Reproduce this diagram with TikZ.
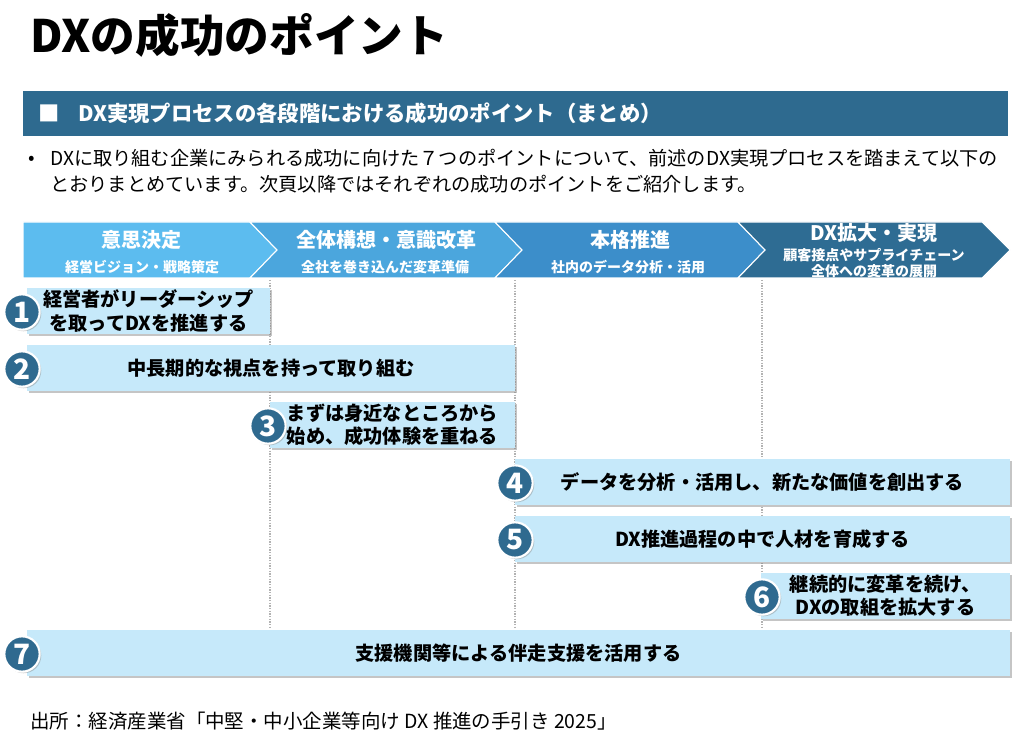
\documentclass[tikz,border=0pt]{standalone}
\usepackage{fontspec}
\setmainfont{Noto Sans CJK JP}
\usetikzlibrary{calc}
\usetikzlibrary{shadows}

\definecolor{hdrblue}{HTML}{2E6A8F}
\definecolor{stepA}{HTML}{5CBCEF}
\definecolor{stepB}{HTML}{4BA6DD}
\definecolor{stepC}{HTML}{3C8ECA}
\definecolor{stepD}{HTML}{2E6C93}
\definecolor{boxfill}{HTML}{C6E9FA}
\definecolor{numblue}{HTML}{2F6A8F}

\begin{document}
\begin{tikzpicture}[x=0.75pt,y=-0.75pt,
  chev/.style={draw=white,line width=0.8pt},
  chevtitle/.style={text=white,inner sep=0pt,font=\bfseries\fontsize{15}{18}\selectfont},
  chevsub/.style={text=white,inner sep=0pt,align=center,font=\bfseries\fontsize{10.5}{12}\selectfont},
  pointbox/.style={fill=boxfill,minimum height=34.5pt,inner sep=0pt,align=center,
    font=\bfseries\fontsize{14.4}{17.5}\selectfont,
    drop shadow={shadow xshift=1.6pt,shadow yshift=-1.6pt,fill=black!45,opacity=0.5}},
  numcirc/.style={circle,fill=numblue,draw=white,line width=1.6pt,minimum size=26.5pt,
    inner sep=0pt,text=white,font=\bfseries\fontsize{21}{21}\selectfont,
    drop shadow={shadow xshift=1.2pt,shadow yshift=-1.2pt,fill=black!45,opacity=0.45}},
  guide/.style={black!30,densely dotted,line width=1pt}]

\useasboundingbox (0,0) rectangle (1024,745);

% title and heading bar
\node[anchor=west,inner sep=0pt,font=\bfseries\fontsize{33.5}{36}\selectfont] (title) at (30,35) {DXの成功のポイント};
\fill[hdrblue] (23,91) rectangle (1008,136);
\node[anchor=west,inner sep=0pt,text=white,font=\bfseries\fontsize{16}{18}\selectfont] (hdrtext) at (38,113) {■\hspace{14pt}DX実現プロセスの各段階における成功のポイント（まとめ）};

\node[anchor=west,inner sep=0pt,font=\fontsize{14.4}{19.5}\selectfont] (dot) at (28,160) {•};
\node[anchor=north west,inner sep=0pt,align=left,font=\fontsize{14.4}{19.5}\selectfont] (lead) at (50,149) {DXに取り組む企業にみられる成功に向けた７つのポイントについて、前述のDX実現プロセスを踏まえて以下の\\とおりまとめています。次頁以降ではそれぞれの成功のポイントをご紹介します。};

% guide lines
\draw[guide] (270,280) -- (270,628);
\draw[guide] (515,280) -- (515,628);
\draw[guide] (762,280) -- (762,628);

% stages
\path[chev,fill=stepA] (23,222) -- (250,222) -- (277,250) -- (250,278) -- (23,278) -- cycle;
\path[chev,fill=stepB] (250,222) -- (495,222) -- (522,250) -- (495,278) -- (250,278) -- (277,250) -- cycle;
\path[chev,fill=stepC] (495,222) -- (738,222) -- (765,250) -- (738,278) -- (495,278) -- (522,250) -- cycle;
\path[chev,fill=stepD] (738,222) -- (982,222) -- (1010,250) -- (982,278) -- (738,278) -- (765,250) -- cycle;

\node[chevtitle] (stageA) at (141,240) {意思決定};
\node[chevsub] (stageAsub) at (142,267) {経営ビジョン・戦略策定};
\node[chevtitle] (stageB) at (386,240) {全体構想・意識改革};
\node[chevsub] (stageBsub) at (385,267) {全社を巻き込んだ変革準備};
\node[chevtitle] (stageC) at (630,240) {本格推進};
\node[chevsub] (stageCsub) at (628,267) {社内のデータ分析・活用};
\node[chevtitle] (stageD) at (874,233) {DX拡大・実現};
\node[chevsub] (stageDsub) at (874,263) {顧客接点やサプライチェーン\\全体への変革の展開};

% points
\node[pointbox,minimum width=182.25pt] (pt1) at (148.5,311) {経営者がリーダーシップ\\を取ってDXを推進する};
\node[pointbox,minimum width=366pt] (pt2) at (271,368) {中長期的な視点を持って取り組む};
\node[pointbox,minimum width=183.75pt] (pt3) at (392.5,425) {まずは身近なところから\\始め、成功体験を重ねる};
\node[pointbox,minimum width=371.25pt] (pt4) at (762.5,482) {データを分析・活用し、新たな価値を創出する};
\node[pointbox,minimum width=371.25pt] (pt5) at (762.5,539) {DX推進過程の中で人材を育成する};
\node[pointbox,minimum width=186.75pt] (pt6) at (885.5,596) {継続的に変革を続け、\\DXの取組を拡大する};
\node[pointbox,minimum width=737.25pt] (pt7) at (518.5,653) {支援機関等による伴走支援を活用する};

\node[numcirc] (n1) at (22,312) {1};
\node[numcirc] (n2) at (22,369) {2};
\node[numcirc] (n3) at (268,426) {3};
\node[numcirc] (n4) at (515,483) {4};
\node[numcirc] (n5) at (515,540) {5};
\node[numcirc] (n6) at (762,597) {6};
\node[numcirc] (n7) at (22,654) {7};

% source
\node[anchor=west,inner sep=0pt,font=\fontsize{14.6}{16}\selectfont] (source) at (30,721) {出所：経済産業省「中堅・中小企業等向け DX 推進の手引き 2025」};

\end{tikzpicture}
\end{document}
